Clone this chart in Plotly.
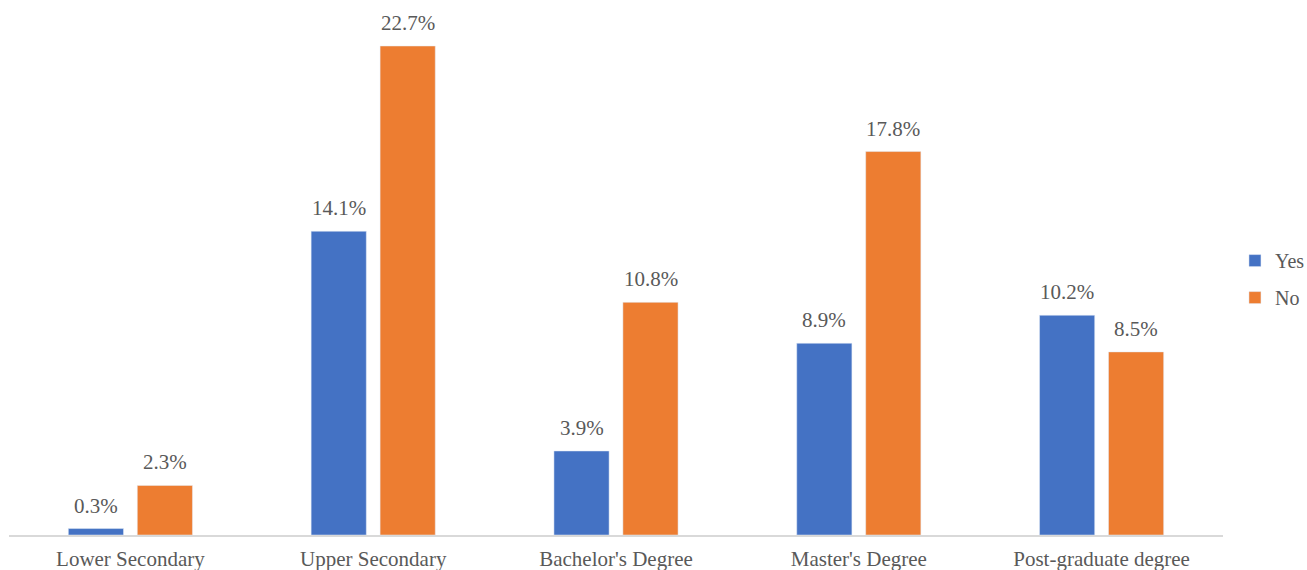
import plotly.graph_objects as go

categories = ["Lower Secondary", "Upper Secondary", "Bachelor's Degree", "Master's Degree", "Post-graduate degree"]
yes_vals = [0.3, 14.1, 3.9, 8.9, 10.2]
no_vals = [2.3, 22.7, 10.8, 17.8, 8.5]

FONT = "Liberation Serif"
TXT = "#595959"
FS = 21

fig = go.Figure()
fig.add_trace(go.Bar(name="Yes", x=categories, y=yes_vals, marker_color="#4472C4",
                     legendgroup="yes"))
fig.add_trace(go.Bar(name="No", x=categories, y=no_vals, marker_color="#ED7D31",
                     legendgroup="no"))

# value labels above bars
for vals, shift in ((yes_vals, -34.5), (no_vals, 34.5)):
    for c, v in zip(categories, vals):
        fig.add_annotation(x=c, y=v, xref="x", yref="y", text=f"{v:.1f}%",
                           showarrow=False, yanchor="bottom", yshift=9, xshift=shift,
                           font=dict(family=FONT, size=FS, color=TXT))

fig.update_layout(
    width=1307, height=570,
    margin=dict(l=9, r=0, t=18, b=35, autoexpand=False),
    paper_bgcolor="white", plot_bgcolor="white",
    barmode="group", bargap=0.432, bargroupgap=0.2,
    font=dict(family=FONT, size=FS, color=TXT),
    legend=dict(x=0.9445, y=0.495, yanchor="middle", xanchor="left",
                font=dict(family=FONT, size=20, color=TXT), tracegroupgap=8),
    showlegend=True,
)
fig.update_xaxes(domain=[0, 1214 / 1298], showline=True, linecolor="#D9D9D9", linewidth=1.5,
                 ticks="", ticklabelstandoff=4, automargin=False,
                 tickfont=dict(family=FONT, size=FS, color=TXT))
fig.update_yaxes(range=[0, 24], visible=False, showgrid=False, automargin=False)

fig.write_html("out.html", config={"displayModeBar": False},
               post_script="document.body.style.margin='0';")
